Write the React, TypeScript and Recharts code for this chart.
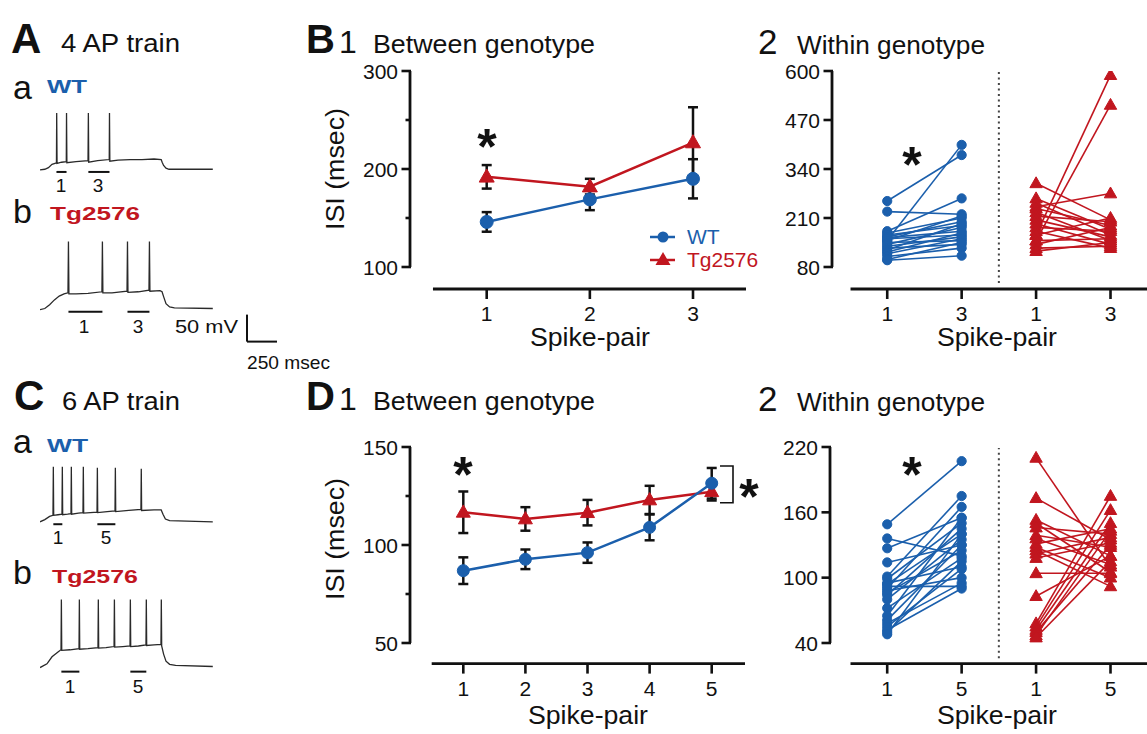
import React from 'react';
import { LineChart, Line, XAxis, YAxis, ErrorBar, ReferenceLine } from 'recharts';

const FONT = '"Liberation Sans", Arial, Helvetica, sans-serif';
const BLUE = '#1b5fac';
const RED = '#c1161f';
const INK = '#111111';
const TRACE = '#2a2a2a';

// ---------- B1: between genotype, 4 AP train ----------
const b1Pairs = [1, 2, 3];
const b1WT = [146, 169, 190];
const b1WTErr = [10, 11, 20];
const b1Tg = [192, 182, 227];
const b1TgErr = [12, 8, 36];
const b1YTicks = [100, 150, 200, 250, 300];
const b1YMajor = [100, 200, 300];

// ---------- D1: between genotype, 6 AP train ----------
const d1Pairs = [1, 2, 3, 4, 5];
const d1WT = [86.9, 92.7, 96.1, 109, 131.5];
const d1WTErr = [6.8, 5, 5.2, 6.6, 7.8];
const d1Tg = [116.7, 113.3, 116.5, 123, 127.2];
const d1TgErr = [10.6, 6, 6.5, 7.2, 4.5];
const d1YTicks = [50, 75, 100, 125, 150];
const d1YMajor = [50, 100, 150];

// ---------- B2: within genotype (spike-pair 1 -> 3) ----------
const b2WT: [number, number][] = [
  [255, 377], [150, 404], [227, 220], [175, 262], [170, 210], [165, 190], [160, 200],
  [158, 175], [155, 165], [150, 215], [145, 150], [140, 185], [135, 160], [130, 140],
  [125, 195], [120, 170], [115, 155], [108, 130], [100, 145], [98, 110],
];
const b2Tg: [number, number][] = [
  [165, 589], [150, 510], [302, 205], [240, 275], [262, 180], [250, 165], [235, 190],
  [225, 150], [215, 200], [205, 160], [195, 140], [185, 175], [175, 130], [165, 210],
  [150, 155], [140, 185], [130, 135], [122, 145],
];
const b2YTicks = [80, 210, 340, 470, 600];
const b2XLabels = ['1', '3', '1', '3'];

// ---------- D2: within genotype (spike-pair 1 -> 5) ----------
const d2WT: [number, number][] = [
  [149, 207], [136, 120], [127, 155], [114, 130], [101, 175], [99, 150], [95, 110],
  [94, 140], [90, 165], [88, 100], [86, 125], [84, 145], [80, 135], [72, 118],
  [65, 155], [61, 130], [58, 95], [55, 108], [52, 90], [50, 115], [48, 140], [92, 92],
];
const d2Tg: [number, number][] = [
  [210, 110], [173, 135], [153, 120], [150, 105], [146, 140], [139, 128], [131, 145],
  [128, 100], [125, 92], [122, 137], [104, 104], [83, 120], [58, 175], [55, 162],
  [52, 150], [50, 130], [47, 143], [45, 115], [136, 112], [118, 132],
];
const d2YTicks = [40, 100, 160, 220];
const d2XLabels = ['1', '5', '1', '5'];

// ---------- example voltage traces: [time ms, membrane mV] ----------
const traceA_WT: [number, number][] = [
  [0, -70], [40, -69], [70, -66], [100, -60], [125, -58], [137, -57], [139, 35], [142, -58],
  [180, -56], [219, -55], [221, 35], [224, -57], [300, -55], [400, -53], [403, 35], [406, -56],
  [480, -53], [577, -51], [579, 35], [582, -54], [650, -52], [750, -51], [850, -51], [950, -50],
  [1010, -51], [1018, -56], [1030, -62], [1050, -67], [1075, -69], [1440, -69],
];
const traceA_Tg: [number, number][] = [
  [0, -70], [40, -68], [80, -61], [120, -52], [160, -45], [200, -41], [233, -39], [237, 56],
  [241, -41], [300, -41], [400, -40], [516, -37], [520, 56], [524, -39], [600, -39], [725, -36],
  [729, 56], [733, -38], [820, -37], [908, -34], [912, 56], [916, -36], [1000, -35], [1017, -37],
  [1030, -46], [1050, -59], [1080, -65], [1120, -67], [1440, -68],
];
const traceC_WT: [number, number][] = [
  [0, -70], [40, -66], [80, -60], [108, -58], [111, 32], [114, -58], [150, -57], [183, -56],
  [186, 32], [189, -57], [230, -56], [258, -55], [261, 32], [264, -56], [320, -54], [358, -53],
  [361, 32], [364, -54], [420, -53], [475, -52], [478, 30], [481, -53], [560, -51], [625, -50],
  [628, 30], [631, -51], [740, -49], [841, -47], [844, 28], [847, -49], [950, -48], [1010, -48],
  [1025, -56], [1045, -65], [1080, -68], [1440, -70],
];
const traceC_Tg: [number, number][] = [
  [0, -70], [58, -63], [100, -50], [150, -41], [175, -37], [178, 56], [181, -38], [250, -37],
  [325, -35], [328, 56], [331, -36], [400, -35], [483, -33], [486, 56], [489, -34], [550, -33],
  [617, -31], [620, 56], [623, -32], [690, -31], [750, -30], [753, 56], [756, -31], [820, -30],
  [883, -28], [886, 56], [889, -29], [950, -28], [1008, -27], [1011, 56], [1014, -30], [1030, -45],
  [1050, -58], [1080, -64], [1130, -66], [1440, -68],
];

// ---------- helpers ----------
const YW = 60;
const XH = 60;
const MT = 15;

type Box = { left: number; top: number; right: number; bottom: number };

const wrapStyle = (b: Box): React.CSSProperties => ({
  position: 'absolute',
  left: b.left - YW,
  top: b.top - MT,
});
const chartW = (b: Box, mr: number) => b.right - b.left + YW + mr;
const chartH = (b: Box) => b.bottom - b.top + MT + XH;

const makeYTick = (majors: number[]) => (props: any) => {
  const { x, y, payload } = props;
  const major = majors.includes(payload.value);
  return (
    <g>
      <line x1={x - (major ? 8.5 : 4.5)} x2={x + 1} y1={y} y2={y} stroke={INK} strokeWidth={2.6} />
      {major && (
        <text x={x - 12} y={y} dy="0.36em" textAnchor="end" fontSize={21} fontFamily={FONT} fill={INK}>
          {payload.value}
        </text>
      )}
    </g>
  );
};

const triDot = (color: string, h: number) => (p: any) => {
  const { cx, cy, index } = p;
  if (cx == null || cy == null) return <g key={`e${index}`} />;
  return (
    <polygon
      key={`t${index}`}
      points={`${cx},${cy - h * 1.05} ${cx + h},${cy + h * 0.7} ${cx - h},${cy + h * 0.7}`}
      fill={color}
      stroke={color}
      strokeWidth={1}
    />
  );
};

const xTickStyle = { fontSize: 21, fill: INK, fontFamily: FONT };

// ---------- Between-genotype chart ----------
function BetweenChart(props: {
  box: Box; data: any[]; xDom: [number, number]; yDom: [number, number]; xTicks: number[];
  yTicks: number[]; yMajor: number[]; axisXStart: number; yAxisLo: number; yAxisHi: number;
  dotR: number; triH: number;
}) {
  const { box, data, xDom, yDom, xTicks, yTicks, yMajor, axisXStart, yAxisLo, yAxisHi, dotR, triH } = props;
  return (
    <div style={wrapStyle(box)}>
      <LineChart width={chartW(box, 4)} height={chartH(box)} data={data} margin={{ top: MT, right: 4, bottom: 0, left: 0 }}>
        <XAxis type="number" dataKey="x" domain={xDom} allowDataOverflow ticks={xTicks} interval={0}
          axisLine={false} tickLine={{ stroke: INK, strokeWidth: 2.6 }} tickSize={10} tickMargin={7}
          tick={xTickStyle} height={XH} />
        <YAxis type="number" domain={yDom} allowDataOverflow ticks={yTicks} interval={0} width={YW}
          axisLine={false} tickLine={false} tickSize={0} tickMargin={0} tick={makeYTick(yMajor)} />
        <ReferenceLine ifOverflow="visible" segment={[{ x: xDom[0], y: yAxisLo }, { x: xDom[0], y: yAxisHi }]} stroke={INK} strokeWidth={2.8} />
        <ReferenceLine ifOverflow="visible" segment={[{ x: axisXStart, y: yDom[0] }, { x: xDom[1], y: yDom[0] }]} stroke={INK} strokeWidth={2.8} />
        <Line dataKey="tg" type="linear" stroke={RED} strokeWidth={2.5} dot={triDot(RED, triH)} isAnimationActive={false}>
          <ErrorBar dataKey="tgErr" direction="y" width={5} strokeWidth={2.5} stroke={INK} />
        </Line>
        <Line dataKey="wt" type="linear" stroke={BLUE} strokeWidth={2.5}
          dot={{ r: dotR, fill: BLUE, stroke: BLUE, strokeWidth: 1 }} isAnimationActive={false}>
          <ErrorBar dataKey="wtErr" direction="y" width={5} strokeWidth={2.5} stroke={INK} />
        </Line>
      </LineChart>
    </div>
  );
}

// ---------- Within-genotype (paired) chart ----------
function WithinChart(props: {
  box: Box; wt: [number, number][]; tg: [number, number][]; xDom: [number, number];
  yDom: [number, number]; yTicks: number[]; xLabels: string[]; axisXStart: number;
  dotTop: number; dotBottom: number;
}) {
  const { box, wt, tg, xDom, yDom, yTicks, xLabels, axisXStart, dotTop, dotBottom } = props;
  return (
    <div style={wrapStyle(box)}>
      <LineChart width={chartW(box, 0)} height={chartH(box)} margin={{ top: MT, right: 0, bottom: 0, left: 0 }}>
        <XAxis type="number" dataKey="x" domain={xDom} allowDataOverflow ticks={[1, 2, 3, 4]} interval={0}
          tickFormatter={(v: number) => xLabels[v - 1]}
          axisLine={false} tickLine={{ stroke: INK, strokeWidth: 2.6 }} tickSize={10} tickMargin={7}
          tick={xTickStyle} height={XH} />
        <YAxis type="number" domain={yDom} allowDataOverflow ticks={yTicks} interval={0} width={YW}
          axisLine={false} tickLine={false} tickSize={0} tickMargin={0} tick={makeYTick(yTicks)} />
        <ReferenceLine ifOverflow="visible" segment={[{ x: xDom[0], y: yTicks[0] }, { x: xDom[0], y: yTicks[yTicks.length - 1] }]} stroke={INK} strokeWidth={2.8} />
        <ReferenceLine ifOverflow="visible" segment={[{ x: axisXStart, y: yDom[0] }, { x: xDom[1], y: yDom[0] }]} stroke={INK} strokeWidth={2.8} />
        <ReferenceLine ifOverflow="visible" segment={[{ x: 2.5, y: dotBottom }, { x: 2.5, y: dotTop }]} stroke="#444" strokeWidth={2} strokeDasharray="2 3.5" />
        {wt.map((p, i) => (
          <Line key={`w${i}`} data={[{ x: 1, y: p[0] }, { x: 2, y: p[1] }]} dataKey="y" type="linear"
            stroke={BLUE} strokeWidth={1.6} dot={{ r: 4.6, fill: BLUE, stroke: BLUE, strokeWidth: 1 }}
            isAnimationActive={false} />
        ))}
        {tg.map((p, i) => (
          <Line key={`g${i}`} data={[{ x: 3, y: p[0] }, { x: 4, y: p[1] }]} dataKey="y" type="linear"
            stroke={RED} strokeWidth={1.6} dot={triDot(RED, 6.2)} isAnimationActive={false} />
        ))}
      </LineChart>
    </div>
  );
}

// ---------- Voltage trace ----------
const PX_MS = 0.12;
const PX_MV = 0.54;

function Trace(props: {
  data: [number, number][]; left: number; top: number; tMax: number; vMin: number; vMax: number;
  bars: [number, number][]; barV: number; scaleBar?: { t: number; v: number; dt: number; dv: number };
}) {
  const { data, left, top, tMax, vMin, vMax, bars, barV, scaleBar } = props;
  const rows = data.map(([t, v]) => ({ t, v }));
  return (
    <div style={{ position: 'absolute', left, top }}>
      <LineChart width={tMax * PX_MS} height={(vMax - vMin) * PX_MV} data={rows} margin={{ top: 0, right: 0, bottom: 0, left: 0 }}>
        <XAxis type="number" dataKey="t" domain={[0, tMax]} allowDataOverflow hide />
        <YAxis type="number" domain={[vMin, vMax]} allowDataOverflow hide width={0} />
        <Line dataKey="v" type="linear" stroke={TRACE} strokeWidth={1.3} dot={false} isAnimationActive={false} />
        {bars.map((b, i) => (
          <ReferenceLine key={i} ifOverflow="visible" segment={[{ x: b[0], y: barV }, { x: b[1], y: barV }]} stroke={INK} strokeWidth={2} />
        ))}
        {scaleBar && (
          <ReferenceLine ifOverflow="visible" segment={[{ x: scaleBar.t, y: scaleBar.v }, { x: scaleBar.t, y: scaleBar.v + scaleBar.dv }]} stroke={INK} strokeWidth={2} />
        )}
        {scaleBar && (
          <ReferenceLine ifOverflow="visible" segment={[{ x: scaleBar.t, y: scaleBar.v }, { x: scaleBar.t + scaleBar.dt, y: scaleBar.v }]} stroke={INK} strokeWidth={2} />
        )}
      </LineChart>
    </div>
  );
}

// ---------- text overlay helper ----------
function T(p: {
  x: number; y: number; s: number; children: React.ReactNode; fill?: string;
  bold?: boolean; anchor?: 'start' | 'middle' | 'end'; len?: number;
}) {
  return (
    <text x={p.x} y={p.y} fontSize={p.s} fontFamily={FONT} fontWeight={p.bold ? 700 : 400}
      fill={p.fill || INK} textAnchor={p.anchor || 'start'}
      {...(p.len ? { textLength: p.len, lengthAdjust: 'spacingAndGlyphs' } : {})}>
      {p.children}
    </text>
  );
}

const ASTER = 50;
function Star({ x, y }: { x: number; y: number }) {
  return <T x={x} y={y + ASTER * 0.57} s={ASTER} bold anchor="middle">*</T>;
}

export default function App() {
  const b1Data = b1Pairs.map((p, i) => ({ x: p, wt: b1WT[i], wtErr: b1WTErr[i], tg: b1Tg[i], tgErr: b1TgErr[i] }));
  const d1Data = d1Pairs.map((p, i) => ({ x: p, wt: d1WT[i], wtErr: d1WTErr[i], tg: d1Tg[i], tgErr: d1TgErr[i] }));

  return (
    <div style={{ position: 'fixed', left: 0, top: 0, width: 1147, height: 734, background: '#fff', overflow: 'hidden' }}>
      <BetweenChart box={{ left: 410, top: 71, right: 746, bottom: 289 }} data={b1Data}
        xDom={[0.2564, 3.5138]} yDom={[77.55, 300]} xTicks={b1Pairs} yTicks={b1YTicks} yMajor={b1YMajor}
        axisXStart={0.479} yAxisLo={100} yAxisHi={300} dotR={6.5} triH={7.5} />
      <BetweenChart box={{ left: 410, top: 446.7, right: 745, bottom: 663.3 }} data={d1Data}
        xDom={[0.1417, 5.536]} yDom={[39.49, 150]} xTicks={d1Pairs} yTicks={d1YTicks} yMajor={d1YMajor}
        axisXStart={0.491} yAxisLo={50} yAxisHi={150} dotR={6} triH={7} />
      <WithinChart box={{ left: 831.5, top: 71, right: 1147, bottom: 289 }} wt={b2WT} tg={b2Tg}
        xDom={[0.258, 4.497]} yDom={[21.63, 600]} yTicks={b2YTicks} xLabels={b2XLabels}
        axisXStart={0.507} dotTop={598} dotBottom={37.5} />
      <WithinChart box={{ left: 829.5, top: 446.7, right: 1147, bottom: 663.3 }} wt={d2WT} tg={d2Tg}
        xDom={[0.2315, 4.497]} yDom={[21.08, 220]} yTicks={d2YTicks} xLabels={d2XLabels}
        axisXStart={0.507} dotTop={219} dotBottom={26} />

      <Trace data={traceA_WT} left={40} top={105.2} tMax={1500} vMin={-80} vMax={50}
        bars={[[137, 221], [403, 579]]} barV={-74} />
      <Trace data={traceA_Tg} left={40} top={234.4} tMax={2000} vMin={-135} vMax={70}
        bars={[[237, 520], [729, 912]]} barV={-74}
        scaleBar={{ t: 1725, v: -129.3, dt: 250, dv: 50 }} />
      <Trace data={traceC_WT} left={40} top={456.9} tMax={1500} vMin={-80} vMax={50}
        bars={[[111, 186], [478, 628]]} barV={-74.5} />
      <Trace data={traceC_Tg} left={40} top={592.4} tMax={1500} vMin={-85} vMax={70}
        bars={[[178, 328], [753, 886]]} barV={-77.5} />

      <svg width={1147} height={734} style={{ position: 'absolute', left: 0, top: 0, pointerEvents: 'none' }}>
        {/* Panel A */}
        <T x={11} y={53} s={42} bold>A</T>
        <T x={61} y={52} s={25} len={119}>4 AP train</T>
        <T x={13} y={99} s={34}>a</T>
        <T x={47} y={93} s={18} bold fill={BLUE} len={40}>WT</T>
        <T x={61} y={192} s={19} anchor="middle">1</T>
        <T x={98} y={192} s={19} anchor="middle">3</T>
        <T x={13} y={223} s={34}>b</T>
        <T x={50} y={220} s={19} bold fill={RED} len={90}>Tg2576</T>
        <T x={84} y={333} s={19} anchor="middle">1</T>
        <T x={138} y={333} s={19} anchor="middle">3</T>
        <T x={175} y={333} s={19} len={63}>50 mV</T>
        <T x={247} y={369} s={19} len={83}>250 msec</T>

        {/* Panel C */}
        <T x={14} y={410} s={42} bold>C</T>
        <T x={62} y={410} s={25} len={118}>6 AP train</T>
        <T x={13} y={453} s={34}>a</T>
        <T x={47} y={452} s={18} bold fill={BLUE} len={41}>WT</T>
        <T x={58} y={544} s={19} anchor="middle">1</T>
        <T x={106} y={544} s={19} anchor="middle">5</T>
        <T x={13} y={584} s={34}>b</T>
        <T x={52} y={583} s={19} bold fill={RED} len={86}>Tg2576</T>
        <T x={70} y={693} s={19} anchor="middle">1</T>
        <T x={138} y={693} s={19} anchor="middle">5</T>

        {/* Titles */}
        <T x={306} y={53} s={40} bold>B</T>
        <T x={339} y={53} s={32}>1</T>
        <T x={373} y={53} s={26} len={222}>Between genotype</T>
        <T x={758} y={54} s={35}>2</T>
        <T x={797} y={54} s={26} len={188}>Within genotype</T>
        <T x={306} y={410} s={40} bold>D</T>
        <T x={339} y={410} s={32}>1</T>
        <T x={373} y={410} s={26} len={222}>Between genotype</T>
        <T x={758} y={411} s={35}>2</T>
        <T x={797} y={411} s={26} len={188}>Within genotype</T>

        {/* Axis titles */}
        <g transform="translate(344,169) rotate(-90)">
          <T x={0} y={0} s={26} anchor="middle" len={122}>ISI (msec)</T>
        </g>
        <g transform="translate(344,539) rotate(-90)">
          <T x={0} y={0} s={26} anchor="middle" len={122}>ISI (msec)</T>
        </g>
        <T x={590} y={346} s={25} anchor="middle" len={120}>Spike-pair</T>
        <T x={997} y={346} s={25} anchor="middle" len={120}>Spike-pair</T>
        <T x={588} y={724} s={25} anchor="middle" len={120}>Spike-pair</T>
        <T x={997} y={724} s={25} anchor="middle" len={120}>Spike-pair</T>

        {/* Legend (B1) */}
        <line x1={650} x2={675} y1={237} y2={237} stroke={BLUE} strokeWidth={2.5} />
        <circle cx={663} cy={237} r={5.5} fill={BLUE} />
        <T x={687} y={244} s={21} fill={BLUE}>WT</T>
        <line x1={650} x2={675} y1={260} y2={260} stroke={RED} strokeWidth={2.5} />
        <polygon points="663,252 670.5,265 655.5,265" fill={RED} />
        <T x={687} y={267} s={21} fill={RED}>Tg2576</T>

        {/* Significance marks */}
        <Star x={487} y={135} />
        <Star x={912} y={153} />
        <Star x={463} y={463} />
        <Star x={912} y={463} />
        <Star x={749} y={485} />
        <path d="M720 466 H733 V502.7 H720" fill="none" stroke={INK} strokeWidth={1.6} />
      </svg>
    </div>
  );
}
